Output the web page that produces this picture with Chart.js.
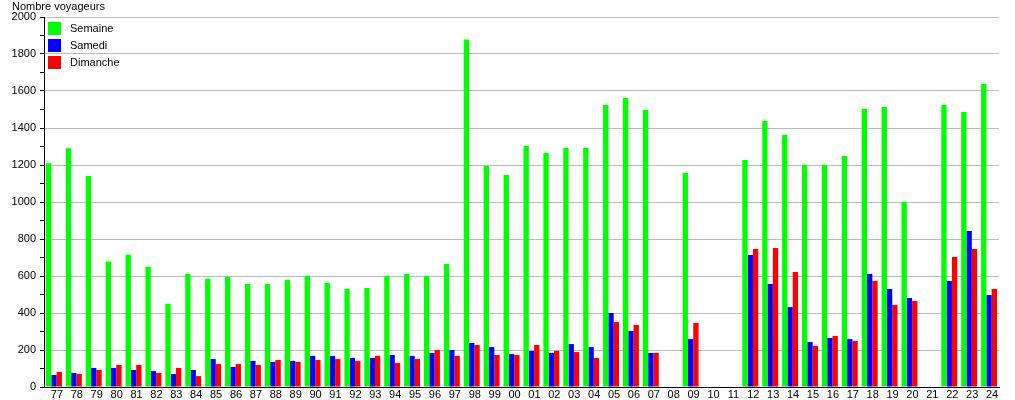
<!DOCTYPE html>
<html>
<head>
<meta charset="utf-8">
<script src="https://cdn.jsdelivr.net/npm/chart.js@4"></script>
<style>
  html, body { margin: 0; padding: 0; background: #fff; }
  #wrap { width: 1015px; height: 400px; }
</style>
</head>
<body>
<div id="wrap"><canvas id="voyChart"></canvas></div>
<script>
// Years 1977 - 2024 (two-digit labels)
const years = ['77','78','79','80','81','82','83','84','85','86','87','88','89','90','91','92',
  '93','94','95','96','97','98','99','00','01','02','03','04','05','06','07','08',
  '09','10','11','12','13','14','15','16','17','18','19','20','21','22','23','24'];

const semaine = [1210, 1290, 1140, 678, 715, 650, 450, 611, 585, 595, 557, 557, 579, 600, 563, 530,
  535, 600, 611, 600, 665, 1878, 1195, 1146, 1303, 1265, 1292, 1292, 1524, 1562, 1497, null,
  1157, null, null, 1227, 1438, 1362, 1200, 1200, 1249, 1503, 1514, 1000, null, 1524, 1486, 1638];

const samedi = [65, 76, 103, 103, 92, 86, 70, 92, 151, 108, 141, 135, 141, 168, 168, 157,
  157, 173, 168, 184, 200, 238, 216, 178, 195, 184, 232, 216, 400, 303, 184, null,
  259, null, null, 714, 557, 432, 243, 265, 259, 611, 530, 481, null, 573, 843, 497];

const dimanche = [81, 70, 92, 119, 119, 76, 103, 59, 124, 124, 119, 146, 135, 146, 151, 141,
  168, 130, 151, 200, 168, 227, 173, 173, 227, 195, 189, 157, 351, 335, 184, null,
  346, null, null, 746, 751, 622, 222, 276, 249, 573, 443, 465, null, 703, 746, 530];

const FONT = 'Liberation Sans, Arial, sans-serif';

// legend drawn inside the plot, top-left
const insideLegend = {
    id: 'insideLegend',
    afterDraw(chart) {
        const c = chart.ctx;
        const area = chart.chartArea;
        c.save();
        c.font = '11px ' + FONT;
        c.textBaseline = 'middle';
        chart.data.datasets.forEach((ds, i) => {
            const y = area.top + 5 + i * 17;
            c.fillStyle = ds.backgroundColor;
            c.fillRect(area.left + 4, y, 13, 13);
            c.fillStyle = '#000';
            c.fillText(ds.label, area.left + 26, y + 7);
        });
        // y axis title
        c.fillText('Nombre voyageurs', 12, 7);
        c.restore();
    }
};

new Chart(document.getElementById('voyChart'), {
    type: 'bar',
    data: {
        labels: years,
        datasets: [
            { label: 'Semaine', data: semaine, backgroundColor: '#00ff00' },
            { label: 'Samedi', data: samedi, backgroundColor: '#0000ff' },
            { label: 'Dimanche', data: dimanche, backgroundColor: '#ff0000' }
        ]
    },
    options: {
        responsive: true,
        maintainAspectRatio: false,
        animation: false,
        layout: { padding: { top: 17, right: 16, left: 0, bottom: 0 } },
        datasets: {
            bar: { categoryPercentage: 0.8, barPercentage: 1.0, borderWidth: 0 }
        },
        plugins: {
            legend: { display: false },
            tooltip: { enabled: true }
        },
        scales: {
            x: {
                grid: { display: false, drawTicks: false, tickLength: 0 },
                border: { display: true, color: '#000', width: 1 },
                ticks: {
                    color: '#000',
                    font: { family: FONT, size: 11 },
                    maxRotation: 0,
                    autoSkip: false,
                    padding: 1,
                    labelOffset: 3
                },
                afterFit(scale) { scale.height = 13; }
            },
            y: {
                min: 0,
                max: 2000,
                grid: {
                    color: ctx => (ctx.tick && ctx.tick.value % 200 === 0 && ctx.tick.value > 0) ? '#bbbbbb' : 'rgba(0,0,0,0)',
                    tickColor: '#000',
                    tickLength: 4,
                    drawTicks: true
                },
                border: { display: true, color: '#000', width: 1 },
                ticks: {
                    stepSize: 100,
                    maxTicksLimit: 30,
                    color: '#000',
                    padding: 4,
                    font: { family: FONT, size: 11 },
                    callback: v => (v % 200 === 0 ? String(v) : '')
                },
                afterFit(scale) { scale.width = 44; }
            }
        }
    },
    plugins: [insideLegend]
});
</script>
</body>
</html>
